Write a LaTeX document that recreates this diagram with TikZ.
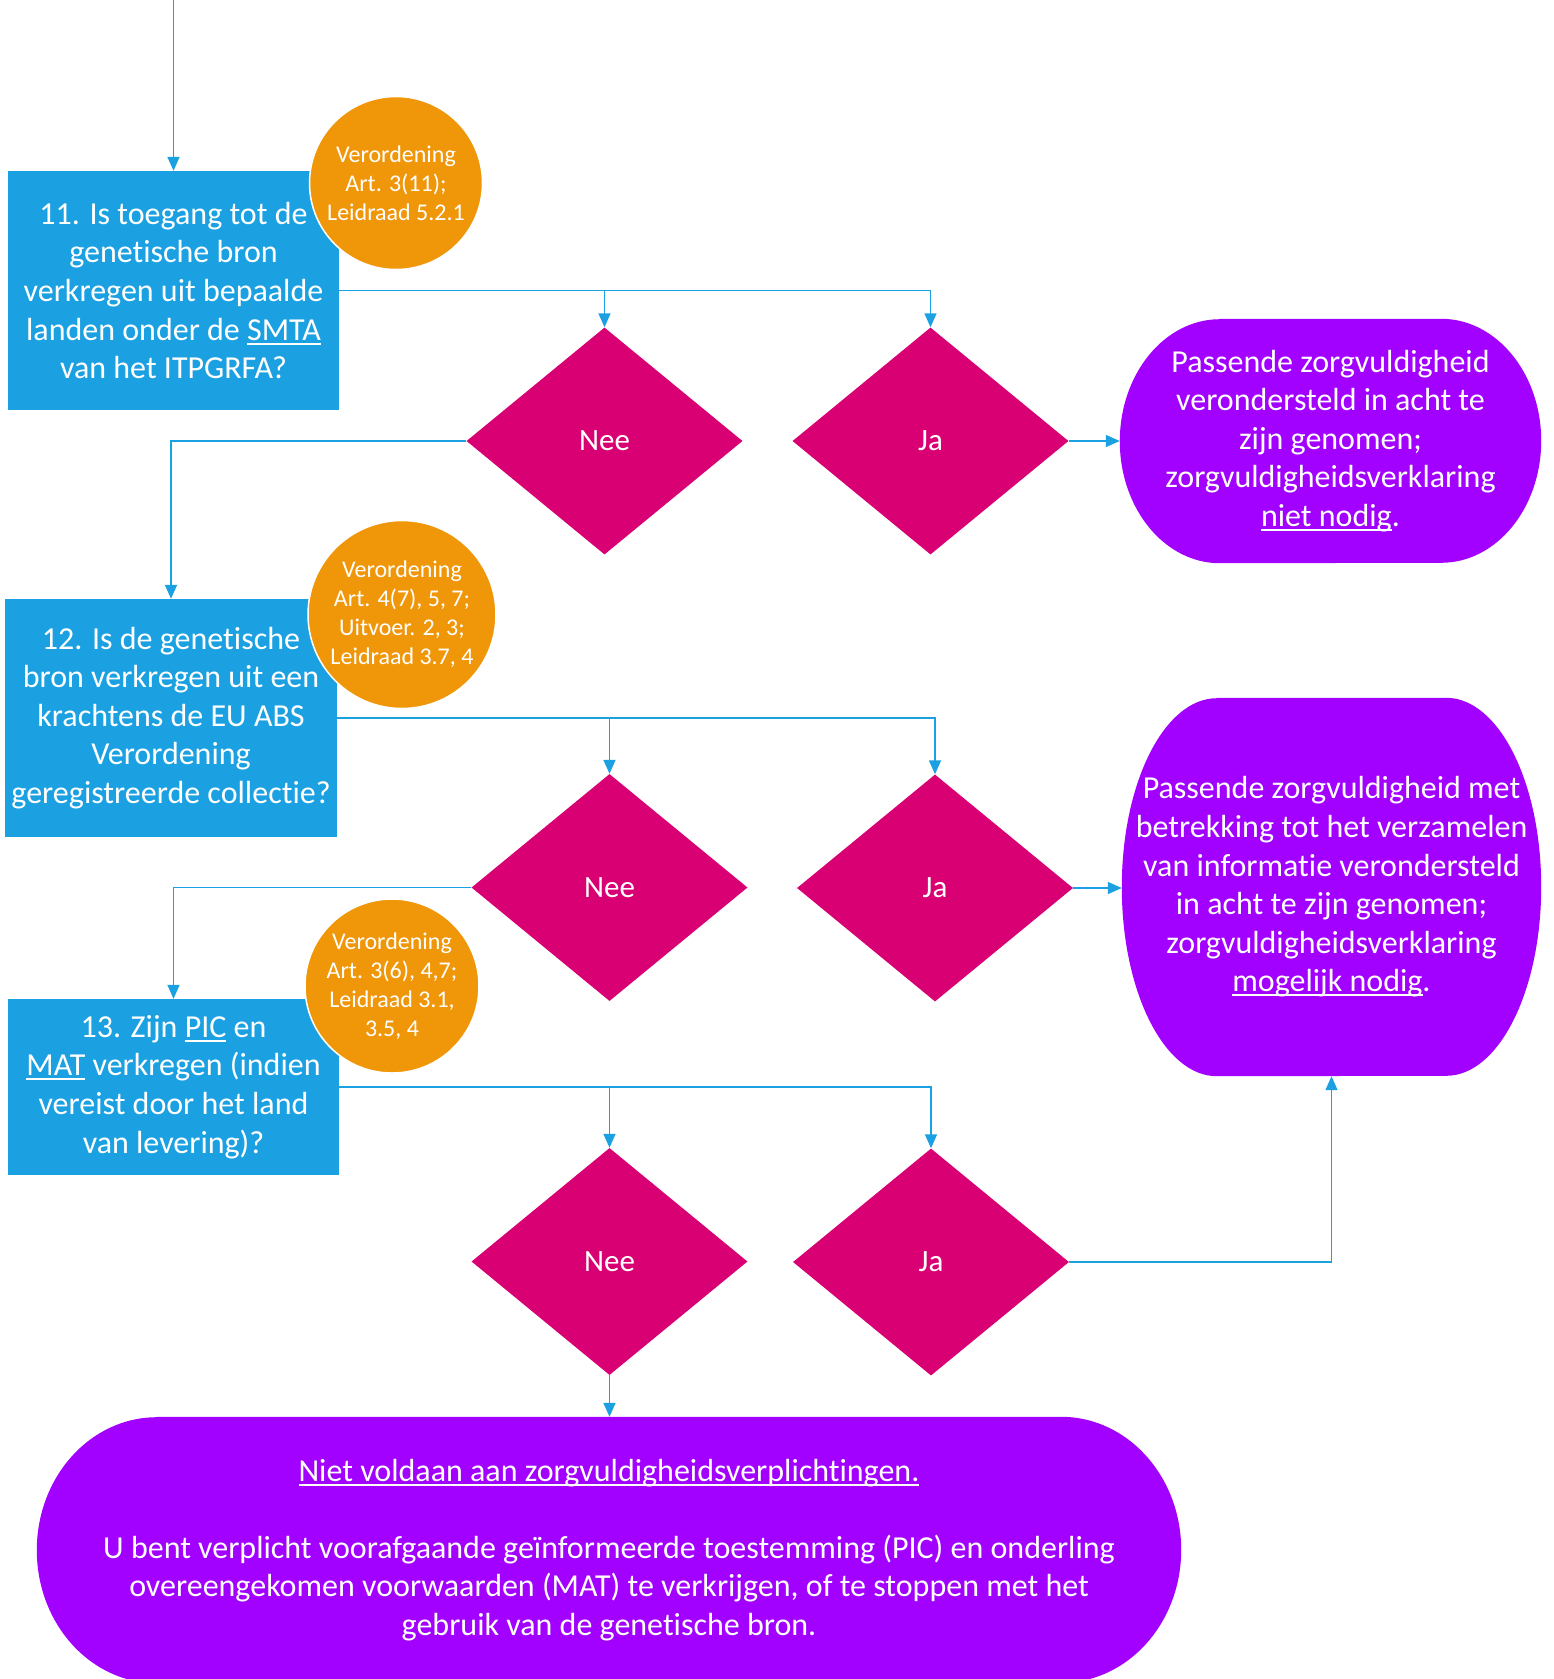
\documentclass[tikz,border=0pt]{standalone}
\usepackage{fontspec}
\setmainfont{Carlito}[Ligatures=NoCommon]
\usetikzlibrary{shapes.geometric,arrows.meta,backgrounds}
\definecolor{qblue}{HTML}{1BA1E2}
\definecolor{refor}{HTML}{F09609}
\definecolor{dmag}{HTML}{D80073}
\definecolor{endpurp}{HTML}{A200FF}
\newcommand{\ulx}[1]{\leavevmode\setbox0=\hbox{#1}\rlap{\rule[-4.5pt]{\wd0}{2pt}}\box0\relax}
\newcommand{\resshape}[3]{%
  \fill[endpurp] ([xshift=#2pt]#1.north west) -- ([xshift=-#2pt]#1.north east)
    arc[start angle=90,end angle=-90,x radius=#2pt,y radius=#3pt]
    -- ([xshift=#2pt]#1.south west)
    arc[start angle=270,end angle=90,x radius=#2pt,y radius=#3pt] -- cycle;}
\begin{document}
\begin{tikzpicture}[x=1pt,y=-1pt,
  qbox/.style={fill=qblue,text=white,inner sep=0pt,align=center,font=\fontsize{32}{38.6}\selectfont},
  refc/.style={circle,fill=refor,draw=white,line width=1.5pt,text=white,inner sep=0pt,align=center,font=\fontsize{24}{29}\selectfont},
  keuze/.style={diamond,fill=dmag,text=white,inner sep=0pt,minimum width=276pt,minimum height=227pt,font=\fontsize{31}{37}\selectfont},
  uitk/.style={text=white,inner sep=0pt,align=center,font=\fontsize{32}{38.6}\selectfont},
  pijl/.style={draw=qblue,line width=1.5pt,-{Triangle[length=14pt,width=12pt]}}]
\useasboundingbox (0,0) rectangle (1554,1679);

\coordinate (top) at (173.5,0);
\node [qbox, minimum width=331pt, minimum height=239pt] (q11) at (173.5,290.5) {11. Is toegang tot de\\genetische bron\\verkregen uit bepaalde\\landen onder de \ulx{SMTA}\\van het ITPGRFA?};
\node [refc, minimum size=173pt] (r11) at (396,183) {Verordening\\Art. 3(11);\\Leidraad 5.2.1};
\node [keuze] (nee1) at (604.5,441) {Nee};
\node [keuze] (ja1) at (930.5,441) {Ja};
\node [uitk, minimum width=421pt, minimum height=244pt] (res1) at (1330.5,441) {Passende zorgvuldigheid\\verondersteld in acht te\\zijn genomen;\\zorgvuldigheidsverklaring\\\ulx{niet nodig}.};

\node [qbox, minimum width=332pt, minimum height=238pt] (q12) at (171,718) {12. Is de genetische\\bron verkregen uit een\\krachtens de EU ABS\\Verordening\\geregistreerde collectie?};
\node [refc, minimum size=188pt] (r12) at (402,614.5) {Verordening\\Art. 4(7), 5, 7;\\Uitvoer. 2, 3;\\Leidraad 3.7, 4};
\node [keuze] (nee2) at (609.5,887.5) {Nee};
\node [keuze] (ja2) at (935,888) {Ja};
\node [uitk, minimum width=419pt, minimum height=378pt] (res2) at (1331.5,887) {Passende zorgvuldigheid met\\betrekking tot het verzamelen\\van informatie verondersteld\\in acht te zijn genomen;\\zorgvuldigheidsverklaring\\\ulx{mogelijk nodig}.};

\node [qbox, minimum width=331pt, minimum height=176pt] (q13) at (173.5,1087) {13. Zijn \ulx{PIC} en\\\ulx{MAT} verkregen (indien\\vereist door het land\\van levering)?};
\node [refc, minimum size=174pt] (r13) at (392,986) {Verordening\\Art. 3(6), 4,7;\\Leidraad 3.1,\\3.5, 4};
\node [keuze] (nee3) at (609.5,1261.5) {Nee};
\node [keuze] (ja3) at (931,1262) {Ja};
\node [uitk, minimum width=1144pt, minimum height=266pt] (fail) at (609,1550) {\ulx{Niet voldaan aan zorgvuldigheidsverplichtingen.}\\[38.6pt]U bent verplicht voorafgaande geïnformeerde toestemming (PIC) en onderling\\overeengekomen voorwaarden (MAT) te verkrijgen, of te stoppen met het\\gebruik van de genetische bron.};

\begin{scope}[on background layer]
\resshape{res1}{100}{122}
\resshape{res2}{95}{189}
\resshape{fail}{120}{133}
\end{scope}

\draw[pijl] (top) -- (q11.north);
\draw[pijl] (q11.east) -| (nee1.north);
\draw[pijl] (q11.east) -| (ja1.north);
\draw[pijl] (nee1.west) -| (q12.north);
\draw[pijl] (ja1.east) -- (ja1.east -| res1.west);
\draw[pijl] (q12.east) -| (nee2.north);
\draw[pijl] (q12.east) -| (ja2.north);
\draw[pijl] (nee2.west) -| (q13.north);
\draw[pijl] (ja2.east) -- (ja2.east -| res2.west);
\draw[pijl] (q13.east) -| (nee3.north);
\draw[pijl] (q13.east) -| (ja3.north);
\draw[pijl] (ja3.east) -| (res2.south);
\draw[pijl] (nee3.south) -- (nee3.south |- fail.north);
\end{tikzpicture}
\end{document}
